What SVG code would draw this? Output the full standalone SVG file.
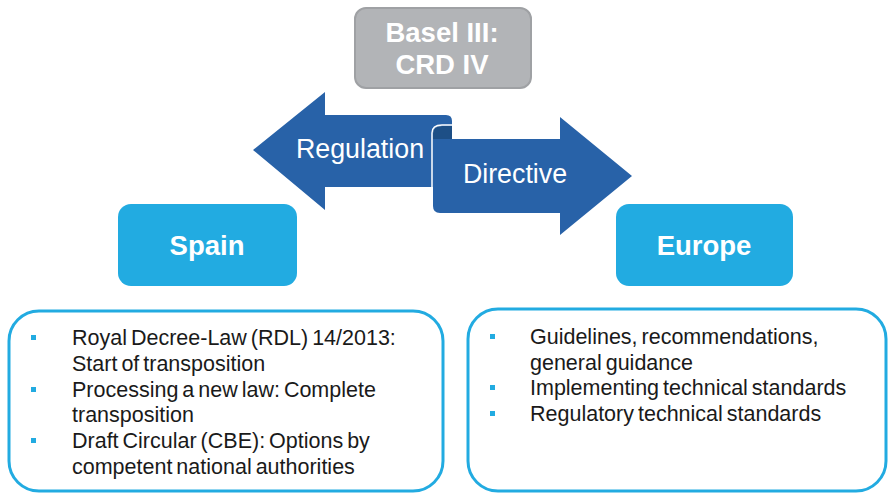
<svg xmlns="http://www.w3.org/2000/svg" width="888" height="493" viewBox="0 0 888 493">
<style>
.hdr{fill:#22abe1;}
.hdrt{font-family:"Liberation Sans",Arial,sans-serif;font-weight:bold;font-size:27.5px;fill:#ffffff;text-anchor:middle;}
.box{fill:#ffffff;stroke:#22abe1;stroke-width:3;}
.li{font-family:"Liberation Sans",Arial,sans-serif;font-size:21.5px;fill:#1a1a1a;word-spacing:-2px;}
.bul{fill:#22abe1;}
.arr{fill:#2862a8;}
.arrt{font-family:"Liberation Sans",Arial,sans-serif;font-size:26.8px;fill:#ffffff;text-anchor:middle;}
</style>
<rect width="888" height="493" fill="#ffffff"/>
<g id="basel">
<rect x="355" y="8" width="176" height="80" rx="11" fill="#b2b4b7" stroke="#9fa1a4" stroke-width="2"/>
<text class="hdrt" x="442" y="42">Basel III:</text>
<text class="hdrt" x="442" y="74">CRD IV</text>
</g>
<g id="connectors">
<g id="regulation">
<path class="arr" d="M253,150 L325,92 L325,115 L446,115 Q452,115 452,121 L452,126 L442,126 Q433,126 433,133 L433,187 L325,187 L325,210 Z"/>
<text class="arrt" x="360" y="158">Regulation</text>
</g>
<g id="directive">
<path d="M433,139 L433,133 Q433,126 442,126 L452,126 L452,139 Z" fill="#1d4f86"/>
<path class="arr" d="M433,139 L560,139 L560,117 L632,176 L560,235 L560,213 L440,213 Q433,213 433,206 Z"/>
<path d="M432,206 L432,133 Q432,125 442,125 L452,125" fill="none" stroke="#ffffff" stroke-width="1.5"/>
<text class="arrt" x="515" y="183">Directive</text>
</g>
</g>
<g id="spain">
<rect class="hdr" x="118" y="204" width="179" height="82" rx="13"/>
<text class="hdrt" x="207" y="255">Spain</text>
</g>
<g id="europe">
<rect class="hdr" x="616" y="204" width="177" height="82" rx="13"/>
<text class="hdrt" x="704" y="255">Europe</text>
</g>
<g id="spain-list">
<rect class="box" x="9" y="311" width="434" height="180" rx="30"/>
<rect class="bul" x="31" y="335" width="5" height="5"/>
<rect class="bul" x="31" y="387" width="5" height="5"/>
<rect class="bul" x="31" y="438" width="5" height="5"/>
<text class="li" x="72" y="345">Royal Decree-Law (RDL) 14/2013:</text>
<text class="li" x="72" y="371">Start of transposition</text>
<text class="li" x="72" y="397">Processing a new law: Complete</text>
<text class="li" x="72" y="422">transposition</text>
<text class="li" x="72" y="448">Draft Circular (CBE): Options by</text>
<text class="li" x="72" y="474">competent national authorities</text>
</g>
<g id="europe-list">
<rect class="box" x="468" y="309" width="418" height="182" rx="30"/>
<rect class="bul" x="490" y="334" width="5" height="5"/>
<rect class="bul" x="490" y="385" width="5" height="5"/>
<rect class="bul" x="490" y="411" width="5" height="5"/>
<text class="li" x="530" y="344">Guidelines, recommendations,</text>
<text class="li" x="530" y="370">general guidance</text>
<text class="li" x="530" y="395">Implementing technical standards</text>
<text class="li" x="530" y="421">Regulatory technical standards</text>
</g>
</svg>
